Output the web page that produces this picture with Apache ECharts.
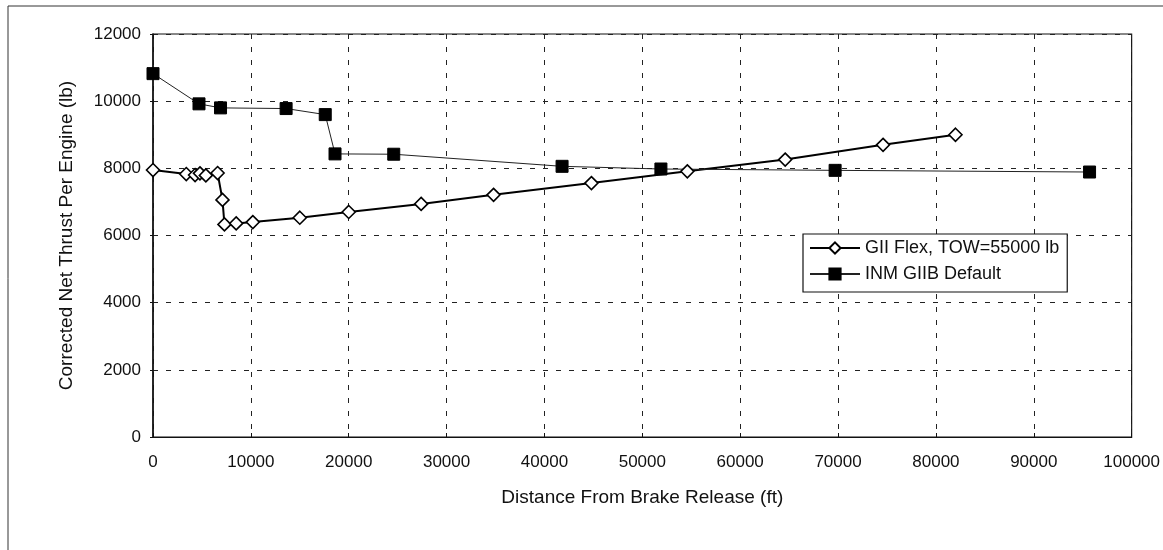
<!DOCTYPE html>
<html><head><meta charset="utf-8">
<script src="https://cdn.jsdelivr.net/npm/echarts@6/dist/echarts.min.js"></script>
<style>html,body{margin:0;padding:0;background:#fff}#c{width:1163px;height:550px}</style>
</head><body><div id="c"></div>
<script>
const seriesNames = ["GII Flex, TOW=55000 lb", "INM GIIB Default"];
const flexDist = [0, 3400, 4300, 4800, 5400, 6600, 7100, 7300, 8500, 10200, 15000, 20000, 27400, 34800, 44800, 54600, 64600, 74600, 82000];
const flexThrust = [7950, 7830, 7800, 7850, 7790, 7860, 7060, 6330, 6360, 6400, 6530, 6700, 6940, 7210, 7560, 7910, 8260, 8700, 9000];
const inmDist = [0, 4700, 6900, 13600, 17600, 18600, 24600, 41800, 51900, 69700, 95700];
const inmThrust = [10820, 9920, 9800, 9780, 9600, 8430, 8420, 8060, 7980, 7940, 7890];
const xTitle = "Distance From Brake Release (ft)";
const yTitle = "Corrected Net Thrust Per Engine (lb)";

const font = "Liberation Sans, Arial, sans-serif";
const chart = echarts.init(document.getElementById('c'));
chart.setOption({
  animation: false,
  backgroundColor: '#fff',
  textStyle: { fontFamily: font },
  grid: { left: 153, right: 31, top: 34, bottom: 113, show: true, borderColor: '#111', borderWidth: 1.2 },
  graphic: [{ type: 'rect', shape: { x: 8, y: 6, width: 1170, height: 560 }, style: { fill: 'none', stroke: '#333', lineWidth: 1 }, silent: true }],
  legend: {
    orient: 'vertical', left: 803, top: 234,
    backgroundColor: '#fff', z: 10,
    borderColor: '#111', borderWidth: 1.2, padding: [5, 8, 9, 6],
    itemWidth: 50, itemHeight: 14, itemGap: 8,
    textStyle: { fontFamily: font, fontSize: 18, color: '#111' },
    data: seriesNames
  },
  xAxis: {
    type: 'value', min: 0, max: 100000, interval: 10000,
    name: xTitle, nameLocation: 'middle', nameGap: 51,
    nameTextStyle: { fontFamily: font, fontSize: 19, color: '#111' },
    axisLine: { lineStyle: { color: '#111', width: 1.2 } },
    axisTick: { show: true, inside: true, length: 4, lineStyle: { color: '#111' } },
    axisLabel: { fontFamily: font, fontSize: 17, color: '#111', margin: 17, formatter: v => String(v) },
    splitLine: { show: true, lineStyle: { color: '#222', type: [5, 8], width: 1 } }
  },
  yAxis: {
    type: 'value', min: 0, max: 12000, interval: 2000,
    name: yTitle, nameLocation: 'middle', nameGap: 77,
    nameTextStyle: { fontFamily: font, fontSize: 19, color: '#111' },
    axisLine: { show: true, lineStyle: { color: '#111', width: 1.5 } },
    axisTick: { show: true, length: 3, lineStyle: { color: '#111' } },
    axisLabel: { fontFamily: font, fontSize: 17, color: '#111', margin: 12, formatter: v => String(v) },
    splitLine: { show: true, lineStyle: { color: '#222', type: [5, 8], width: 1 } }
  },
  series: [
    {
      name: seriesNames[0], type: 'line',
      data: flexDist.map((d, i) => [d, flexThrust[i]]),
      symbol: 'diamond', symbolSize: 13,
      itemStyle: { color: '#fff', borderColor: '#000', borderWidth: 1.6 },
      lineStyle: { color: '#000', width: 2 }
    },
    {
      name: seriesNames[1], type: 'line',
      data: inmDist.map((d, i) => [d, inmThrust[i]]),
      symbol: 'rect', symbolSize: 12,
      itemStyle: { color: '#000', borderColor: '#000', borderWidth: 1 },
      lineStyle: { color: '#222', width: 1 }
    }
  ]
});
</script></body></html>
